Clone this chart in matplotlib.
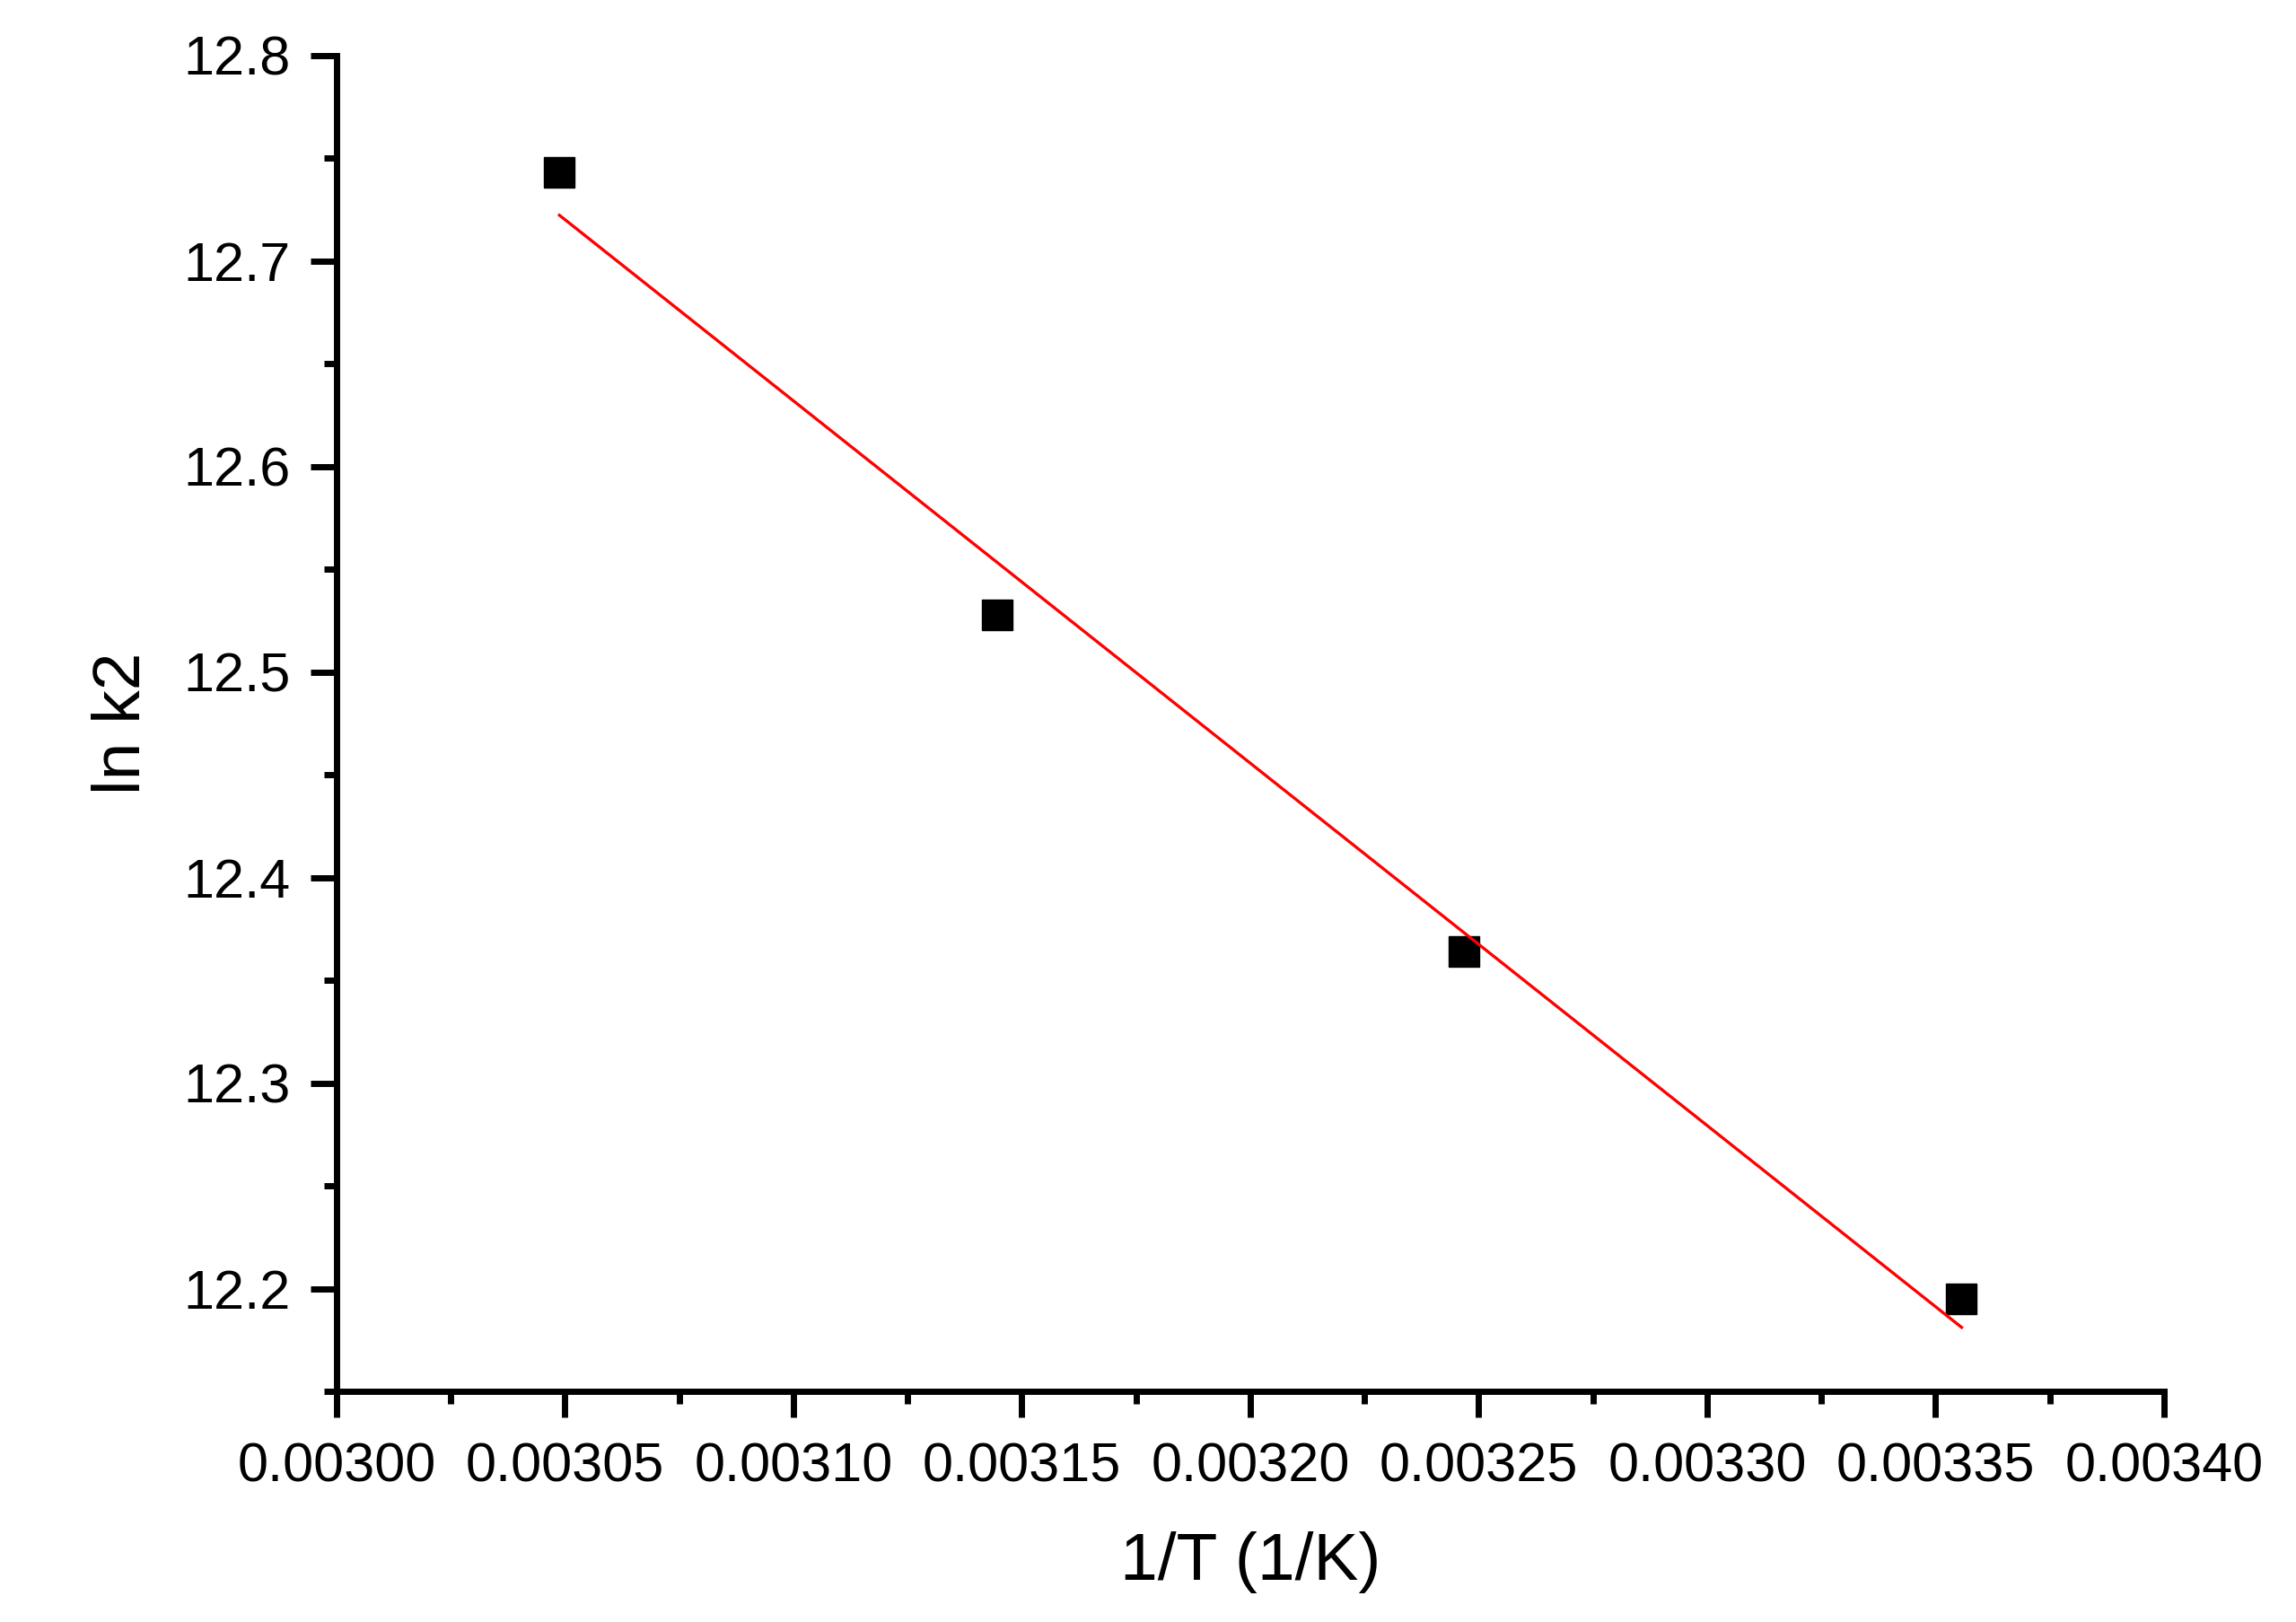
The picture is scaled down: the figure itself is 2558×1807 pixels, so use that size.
import numpy as np
import matplotlib.pyplot as plt
from matplotlib.ticker import MultipleLocator, FormatStrFormatter

# Arrhenius data: 1/T and ln k2
inv_T = [1 / 328, 1 / 318, 1 / 308, 1 / 298]
ln_k2 = [12.743, 12.528, 12.364, 12.195]

plt.rcParams['font.family'] = ['Liberation Sans', 'DejaVu Sans']

fig = plt.figure(figsize=(25.58, 18.07), dpi=100)
ax = fig.add_axes([0.1466, 0.1422, 0.7959, 0.8235])

# data points
ax.plot(inv_T, ln_k2, linestyle='none', marker='s', markersize=25, color='black')

# linear fit
slope, intercept = np.polyfit(inv_T, ln_k2, 1)
xfit = np.array([min(inv_T), max(inv_T)])
ax.plot(xfit, slope * xfit + intercept, color='red', linewidth=2.4)

ax.set_xlim(0.00300, 0.00340)
ax.set_ylim(12.15, 12.8)
ax.xaxis.set_major_locator(MultipleLocator(0.00005))
ax.xaxis.set_minor_locator(MultipleLocator(0.000025))
ax.xaxis.set_major_formatter(FormatStrFormatter('%.5f'))
ax.yaxis.set_major_locator(MultipleLocator(0.1))
ax.yaxis.set_minor_locator(MultipleLocator(0.05))
ax.yaxis.set_major_formatter(FormatStrFormatter('%.1f'))

for s in ['top', 'right']:
    ax.spines[s].set_visible(False)
for s in ['left', 'bottom']:
    ax.spines[s].set_linewidth(5)

ax.tick_params(which='major', direction='out', length=21, width=5, labelsize=44)
ax.tick_params(which='minor', direction='out', length=10, width=5)
ax.tick_params(axis='x', which='major', pad=20)
ax.tick_params(axis='y', which='major', pad=16)

ax.set_xlabel('1/T (1/K)', fontsize=54, labelpad=30)
ax.set_ylabel('ln k2', fontsize=54, labelpad=24)

fig.savefig('out.png', dpi=100)
